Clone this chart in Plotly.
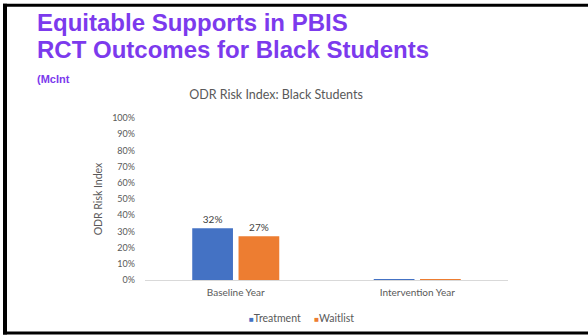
import plotly.graph_objects as go

# ---- data ----
categories = ["Baseline Year", "Intervention Year"]
treatment = [32, 0.1]
waitlist = [27, 0.1]
y_ticks = [0, 10, 20, 30, 40, 50, 60, 70, 80, 90, 100]
y_tick_labels = [f"{v}%" for v in y_ticks]
series_names = ["Treatment", "Waitlist"]
series_colors = ["#4472C4", "#ED7D31"]

# ---- layout geometry (pixels) ----
W, H = 588, 335
L, R, T, B = 145, 508, 118, 280  # plot area edges in px


def px(x):
    return (x - L) / (R - L)


def py(y):
    return (B - y) / (B - T)


def lbl(vals):
    return [f"{v:.0f}%" if v >= 1 else "" for v in vals]


fig = go.Figure()
for name, vals, col in zip(series_names, [treatment, waitlist], series_colors):
    fig.add_trace(go.Bar(
        x=categories, y=vals, name=name, marker_color=col,
        marker_line_width=0,
        text=lbl(vals), textposition="outside", cliponaxis=False,
        textfont=dict(family="Lato", size=10, color="#404040"),
        showlegend=False,
    ))

legend_text = "&nbsp;&nbsp;&nbsp;&nbsp;&nbsp;".join(
    f"<span style='color:{c};font-size:8px'>■</span>{n}"
    for n, c in zip(series_names, series_colors)
)

purple = "rgb(124,58,237)"
fig.update_layout(
    width=W, height=H,
    margin=dict(l=L, r=W - R, t=T, b=H - B, autoexpand=False),
    paper_bgcolor="white", plot_bgcolor="white",
    barmode="group", bargap=0.49, bargroupgap=0.12,
    font=dict(family="Lato", color="#595959"),
    title=dict(text="ODR Risk Index: Black Students",
               font=dict(family="Lato", size=12.5, color="#595959"),
               x=px(276), xref="paper", xanchor="center",
               y=1 - 95 / H, yref="container", yanchor="middle"),
    xaxis=dict(showline=True, linecolor="#d9d9d9", linewidth=1,
               showgrid=False, ticks="", ticklabelstandoff=3,
               tickfont=dict(family="Lato", size=10, color="#595959")),
    yaxis=dict(range=[0, 100], tickvals=y_ticks, ticktext=y_tick_labels,
               showgrid=False, zeroline=False, showline=False, ticks="",
               ticklabelstandoff=9,
               tickfont=dict(family="Lato", size=9, color="#595959"),
               title=dict(text="ODR Risk Index", standoff=7,
                          font=dict(family="Lato", size=10.5, color="#595959"))),
    annotations=[
        dict(text="<b>Equitable Supports in PBIS</b>", x=px(35), y=py(22),
             xref="paper", yref="paper", xanchor="left", yanchor="middle",
             showarrow=False, font=dict(family="Liberation Sans", size=24, color=purple)),
        dict(text="<b>RCT Outcomes for Black Students</b>", x=px(35), y=py(50),
             xref="paper", yref="paper", xanchor="left", yanchor="middle",
             showarrow=False, font=dict(family="Liberation Sans", size=24, color=purple)),
        dict(text="<b>(McInt</b>", x=px(35), y=py(79),
             xref="paper", yref="paper", xanchor="left", yanchor="middle",
             showarrow=False, font=dict(family="Liberation Sans", size=11, color=purple)),
        dict(text=legend_text, x=px(301), y=py(318),
             xref="paper", yref="paper", xanchor="center", yanchor="middle",
             showarrow=False, font=dict(family="Lato", size=10.5, color="#595959")),
    ],
    shapes=[
        dict(type="line", xref="paper", yref="paper", x0=px(3), x1=px(600),
             y0=py(5.3), y1=py(5.3), line=dict(color="black", width=3)),
        dict(type="line", xref="paper", yref="paper", x0=px(5), x1=px(5),
             y0=py(3.8), y1=py(334.5), line=dict(color="black", width=4)),
        dict(type="line", xref="paper", yref="paper", x0=px(3), x1=px(600),
             y0=py(333), y1=py(333), line=dict(color="black", width=3)),
    ],
)

fig.write_html("out.html", config={"displayModeBar": False},
               post_script="document.body.style.margin='0';")
